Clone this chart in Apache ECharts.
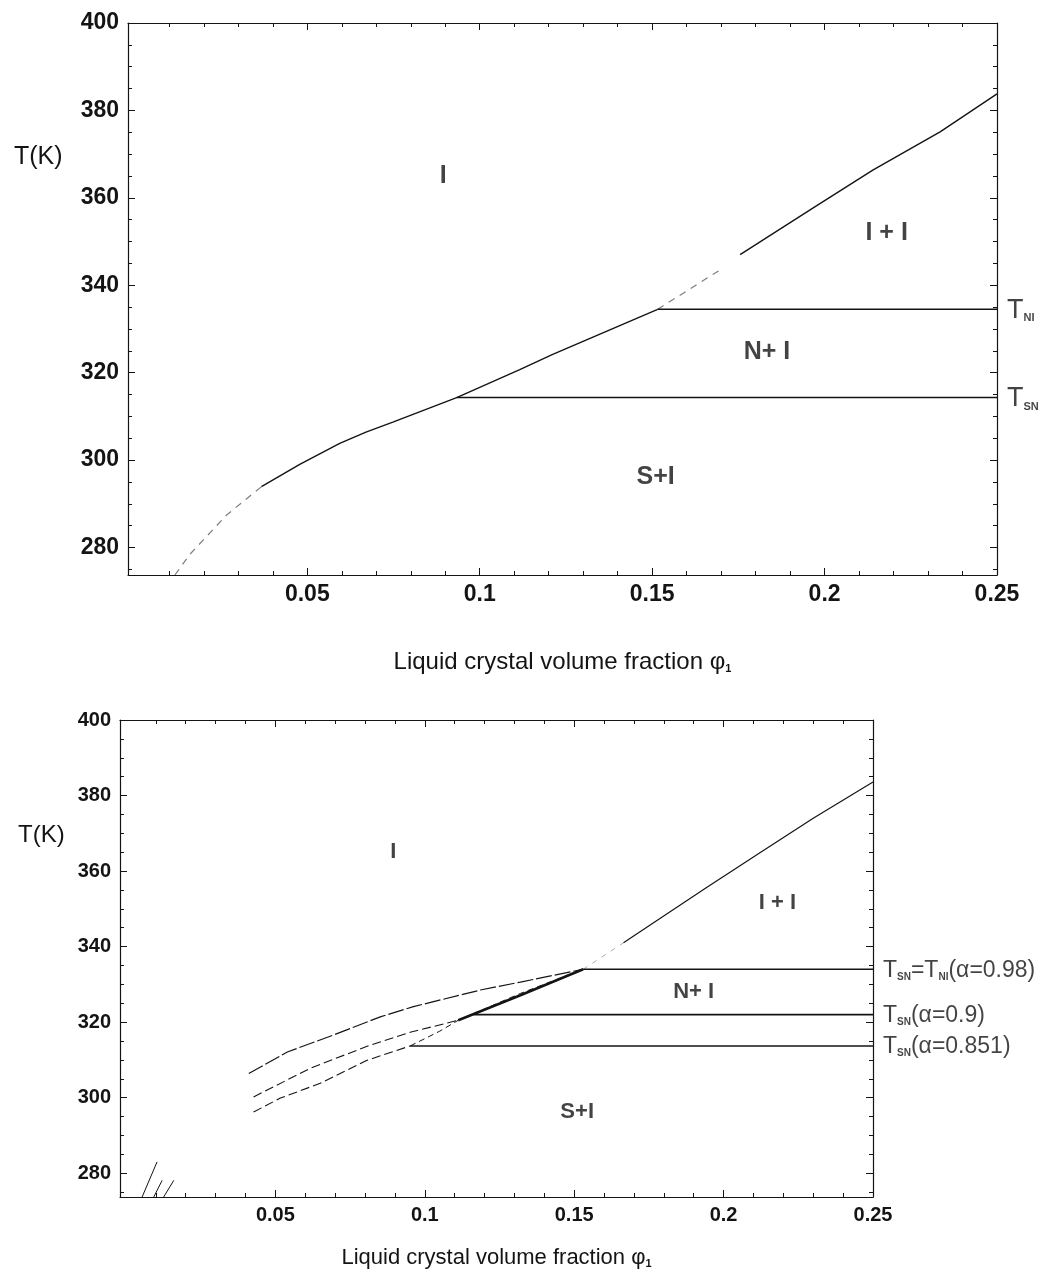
<!DOCTYPE html>
<html>
<head>
<meta charset="utf-8">
<script src="https://cdn.jsdelivr.net/npm/echarts@6/dist/echarts.min.js"></script>
<style>
  html, body { margin: 0; padding: 0; background: #fff; }
  #chart { width: 1052px; height: 1282px; }
</style>
</head>
<body>
<div id="chart"></div>
<script>
// axis ranges and ticks (both panels share them)
const X_MIN = -0.002
const X_MAX = 0.25
const Y_MIN = 273.7
const Y_MAX = 400
const xTicks = [0.05, 0.1, 0.15, 0.2, 0.25]
const xMinorTicks = [0.01, 0.02, 0.03, 0.04, 0.06, 0.07, 0.08, 0.09, 0.11, 0.12, 0.13, 0.14,
  0.16, 0.17, 0.18, 0.19, 0.21, 0.22, 0.23, 0.24]
const yTicks = [280, 300, 320, 340, 360, 380, 400]
const yMinorTicks = [275, 285, 290, 295, 305, 310, 315, 325, 330, 335, 345, 350, 355,
  365, 370, 375, 385, 390, 395]

// top panel: phase boundaries
const topLiquidusLow = [[0.0116, 273.7], [0.0159, 278.4], [0.0267, 287.5], [0.0367, 293.9]]
const topLiquidus = [[0.0367, 293.9], [0.0478, 299.0], [0.0594, 303.8], [0.067, 306.4], [0.0748, 308.7],
  [0.0933, 314.3], [0.1116, 320.7], [0.121, 324.1], [0.1357, 329.1], [0.1516, 334.5]]
const topIsoGap = [[0.1516, 334.5], [0.1697, 343.5]]
const topIso = [[0.1755, 347.0], [0.1967, 357.7], [0.2141, 366.4], [0.2335, 375.1], [0.25, 383.8]]
const topTNI = [[0.1516, 334.5], [0.25, 334.5]]
const topTSN = [[0.0933, 314.3], [0.25, 314.3]]
const topRegionNames = ['I', 'I + I', 'N+ I', 'S+I']
const topRegionAt = [[0.0894, 365], [0.218, 352], [0.1833, 324.6], [0.151, 296.2]]
const topEdgeNames = ['{t|T}{s|NI}', '{t|T}{s|SN}']
const topEdgeT = [334.5, 314.3]

// bottom panel: three alpha values
const botLow98 = [[0.0054, 273.7], [0.0104, 283.0]]
const botLow90 = [[0.0093, 273.7], [0.0121, 278.1]]
const botLow851 = [[0.0126, 273.7], [0.016, 278.1]]
const botCurve98 = [[0.0411, 306.4], [0.054, 312.1], [0.0695, 316.6], [0.0851, 321.4], [0.0962, 324.1],
  [0.1186, 328.5], [0.132, 330.6], [0.153, 334.0]]
const botCurve90 = [[0.0427, 300.2], [0.0617, 307.8], [0.0807, 313.6], [0.0951, 317.3], [0.1112, 320.5]]
const botCurve851 = [[0.0427, 296.2], [0.0517, 299.9], [0.065, 303.8], [0.0807, 309.9], [0.0951, 313.7]]
const botBranchThin = [[0.0951, 313.7], [0.105, 317.6], [0.1112, 320.5], [0.132, 327.6], [0.153, 334.0]]
const botBranchThick = [[0.1112, 320.5], [0.132, 327.1], [0.153, 334.0]]
const botIsoGap = [[0.153, 334.0], [0.1665, 341.0]]
const botIso = [[0.1665, 341.0], [0.1938, 355.4], [0.2128, 365.2], [0.230, 374.0], [0.25, 383.6]]
const botT98 = [[0.153, 334.0], [0.25, 334.0]]
const botT90 = [[0.1163, 322.0], [0.25, 322.0]]
const botT851 = [[0.0951, 313.7], [0.25, 313.7]]
const botRegionNames = ['I', 'I + I', 'N+ I', 'S+I']
const botRegionAt = [[0.0895, 365], [0.218, 351.5], [0.19, 328], [0.151, 296.2]]
const botEdgeNames = ['{t|T}{s|SN}{t|=T}{s|NI}{t|(α=0.98)}', '{t|T}{s|SN}{t|(α=0.9)}', '{t|T}{s|SN}{t|(α=0.851)}']
const botEdgeT = [334.0, 322.0, 313.7]

const FONT = "'Liberation Sans', Arial, Helvetica, sans-serif"
const INK = '#141414'

// four x axes and four y axes per grid: labelled side, its minor ticks, and the mirrored frame sides
const buildAxes = (g, fontSize, titleSize, nameGap) => {
  const line = { show: true, onZero: false, lineStyle: { color: INK, width: 1.2 } }
  const noLine = { show: false, onZero: false }
  const tick = (vals, len) => ({ show: true, inside: true, length: len, customValues: vals, lineStyle: { color: INK, width: 1 } })
  const base = { gridIndex: g, type: 'value', splitLine: { show: false } }
  const xs = [
    {
      ...base, position: 'bottom', min: X_MIN, max: X_MAX, axisLine: line, axisTick: tick(xTicks, 7),
      axisLabel: { customValues: xTicks, fontSize, fontWeight: 'bold', color: INK, fontFamily: FONT, margin: 8 },
      name: 'Liquid crystal volume fraction {p|φ}{s|1}',
      nameLocation: 'middle',
      nameGap: nameGap,
      nameTextStyle: {
        fontSize: titleSize, color: INK, fontFamily: FONT,
        rich: {
          p: { fontSize: titleSize, color: INK, fontFamily: FONT },
          s: { fontSize: 11, color: INK, fontFamily: FONT, fontWeight: 'bold', verticalAlign: 'bottom', lineHeight: 10 }
        }
      }
    },
    { ...base, position: 'bottom', min: X_MIN, max: X_MAX, axisLine: noLine, axisTick: tick(xMinorTicks, 4), axisLabel: { show: false } },
    { ...base, position: 'top', min: X_MIN, max: X_MAX, axisLine: line, axisTick: tick(xTicks, 7), axisLabel: { show: false } },
    { ...base, position: 'top', min: X_MIN, max: X_MAX, axisLine: noLine, axisTick: tick(xMinorTicks, 4), axisLabel: { show: false } }
  ]
  const ys = [
    {
      ...base, position: 'left', min: Y_MIN, max: Y_MAX, axisLine: line, axisTick: tick(yTicks, 7),
      axisLabel: { customValues: yTicks, fontSize, fontWeight: 'bold', color: INK, fontFamily: FONT, margin: 9 }
    },
    { ...base, position: 'left', min: Y_MIN, max: Y_MAX, axisLine: noLine, axisTick: tick(yMinorTicks, 4), axisLabel: { show: false } },
    { ...base, position: 'right', min: Y_MIN, max: Y_MAX, axisLine: line, axisTick: tick(yTicks, 7), axisLabel: { show: false } },
    { ...base, position: 'right', min: Y_MIN, max: Y_MAX, axisLine: noLine, axisTick: tick(yMinorTicks, 4), axisLabel: { show: false } }
  ]
  return { xs, ys }
}

const curve = (data, ai, opts = {}) => ({
  type: 'line',
  xAxisIndex: ai,
  yAxisIndex: ai,
  data,
  symbol: 'none',
  silent: true,
  z: 3,
  lineStyle: {
    color: INK,
    width: opts.width || 1.4,
    type: opts.dash || 'solid',
    opacity: opts.opacity == null ? 1 : opts.opacity
  }
})

const regionLabels = (names, at, ai, fontSize) => ({
  type: 'scatter',
  xAxisIndex: ai,
  yAxisIndex: ai,
  symbolSize: 0,
  silent: true,
  data: names.map((n, i) => ({ name: n, value: at[i] })),
  label: { show: true, position: 'inside', formatter: '{b}', fontSize, fontWeight: 'bold', color: INK, fontFamily: FONT }
})

const edgeLabels = (names, temps, ai, fontSize, subSize) => ({
  type: 'scatter',
  xAxisIndex: ai,
  yAxisIndex: ai,
  symbolSize: 0,
  silent: true,
  data: names.map((n, i) => ({ name: n, value: [X_MAX, temps[i]] })),
  label: {
    show: true,
    position: 'right',
    distance: 10,
    formatter: '{b}',
    rich: {
      t: { fontSize, color: INK, fontFamily: FONT, lineHeight: fontSize + 2, verticalAlign: 'bottom' },
      s: { fontSize: subSize, fontWeight: 'bold', color: INK, fontFamily: FONT, lineHeight: subSize, verticalAlign: 'bottom' }
    }
  }
})

const chart = echarts.init(document.getElementById('chart'))
const topAxes = buildAxes(0, 23, 24, 75)
const botAxes = buildAxes(1, 20, 22, 50)

const option = {
  backgroundColor: '#fff',
  animation: false,
  grid: [
    { left: 128, top: 23, width: 869, height: 552 },
    { left: 120, top: 720, width: 753, height: 477 }
  ],
  xAxis: [...topAxes.xs, ...botAxes.xs],
  yAxis: [...topAxes.ys, ...botAxes.ys],
  graphic: [
    { type: 'text', left: 14, top: 145, style: { text: 'T(K)', fill: INK, font: "25px 'Liberation Sans', Arial, sans-serif" } },
    { type: 'text', left: 18, top: 823, style: { text: 'T(K)', fill: INK, font: "24px 'Liberation Sans', Arial, sans-serif" } }
  ],
  series: [
    // top panel
    curve(topLiquidusLow, 0, { dash: [7, 6], opacity: 0.55, width: 1.2 }),
    curve(topLiquidus, 0),
    curve(topIsoGap, 0, { dash: [7, 6], opacity: 0.55, width: 1.2 }),
    curve(topIso, 0),
    curve(topTNI, 0, { width: 1.6 }),
    curve(topTSN, 0, { width: 1.6 }),
    regionLabels(topRegionNames, topRegionAt, 0, 25),
    edgeLabels(topEdgeNames, topEdgeT, 0, 27, 11),
    // bottom panel
    curve(botLow98, 4, { width: 1 }),
    curve(botLow90, 4, { width: 1 }),
    curve(botLow851, 4, { width: 1 }),
    curve(botCurve98, 4, { width: 1.2, dash: [16, 3] }),
    curve(botCurve90, 4, { width: 1.1, dash: [9, 4] }),
    curve(botCurve851, 4, { width: 1.1, dash: [9, 4] }),
    curve(botBranchThin, 4, { width: 1, dash: [6, 4] }),
    curve(botBranchThick, 4, { width: 2.6 }),
    curve(botIsoGap, 4, { dash: [5, 6], opacity: 0.35, width: 1 }),
    curve(botIso, 4, { width: 1.2 }),
    curve(botT98, 4, { width: 1.4 }),
    curve(botT90, 4, { width: 1.7 }),
    curve(botT851, 4, { width: 1.4 }),
    regionLabels(botRegionNames, botRegionAt, 4, 22),
    edgeLabels(botEdgeNames, botEdgeT, 4, 23, 10)
  ]
}

chart.setOption(option)
window.addEventListener('resize', () => chart.resize())
</script>
</body>
</html>
